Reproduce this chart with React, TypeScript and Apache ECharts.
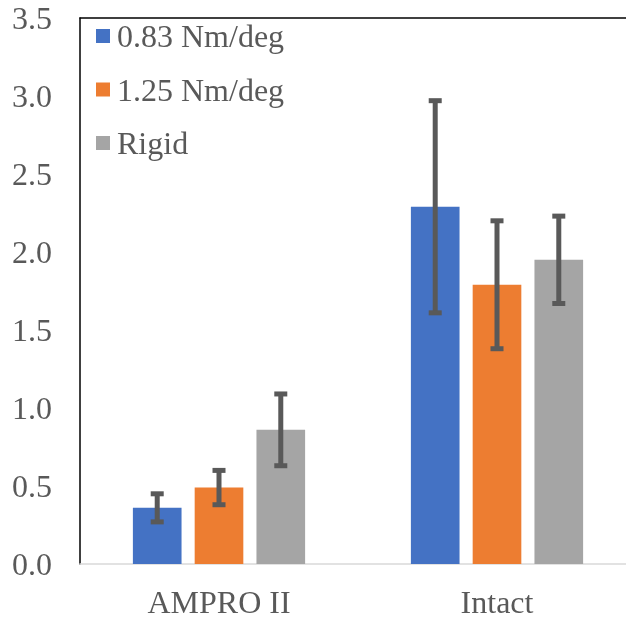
import React, { useEffect, useRef } from "react";
import * as echarts from "echarts";

const categories = ["AMPRO II", "Intact"];
const seriesNames = ["0.83 Nm/deg", "1.25 Nm/deg", "Rigid"];
const colors = ["#4472C4", "#ED7D31", "#A5A5A5"];
const means083 = [0.36, 2.29];
const means125 = [0.49, 1.79];
const meansRigid = [0.86, 1.95];
const err083 = [0.09, 0.68];
const err125 = [0.11, 0.41];
const errRigid = [0.23, 0.28];
const yTicks = [0, 0.5, 1.0, 1.5, 2.0, 2.5, 3.0, 3.5];

const BAR_FRAC = 0.175;
const GAP_FRAC = 0.27;

export default function App() {
  const ref = useRef<HTMLDivElement>(null);
  useEffect(() => {
    if (!ref.current) return;
    const chart = echarts.init(ref.current, null, { renderer: "svg" });
    const means = [means083, means125, meansRigid];
    const errs = [err083, err125, errRigid];
    const font = "Liberation Serif";
    const textColor = "#595959";

    const barSeries = seriesNames.map((name, i) => ({
      name,
      type: "bar",
      data: means[i],
      barWidth: BAR_FRAC * 100 + "%",
      barGap: GAP_FRAC * 100 + "%",
      itemStyle: { color: colors[i] },
      z: 2,
    }));

    const errSeries = seriesNames.map((name, i) => ({
      name: name + "-err",
      type: "custom",
      z: 5,
      data: means[i].map((m, c) => [c, m - errs[i][c], m + errs[i][c]]),
      renderItem: (params: any, api: any) => {
        const cat = api.value(0);
        const lo = api.coord([cat, api.value(1)]);
        const hi = api.coord([cat, api.value(2)]);
        const band = api.size([1, 0])[0];
        const bw = band * BAR_FRAC;
        const gap = bw * GAP_FRAC;
        const total = 3 * bw + 2 * gap;
        const x = lo[0] - total / 2 + i * (bw + gap) + bw / 2;
        const capW = 13;
        const style = { stroke: "#595959", lineWidth: 5 };
        return {
          type: "group",
          children: [
            { type: "line", shape: { x1: x, y1: hi[1], x2: x, y2: lo[1] }, style },
            { type: "line", shape: { x1: x - capW / 2, y1: hi[1], x2: x + capW / 2, y2: hi[1] }, style },
            { type: "line", shape: { x1: x - capW / 2, y1: lo[1], x2: x + capW / 2, y2: lo[1] }, style },
          ],
        };
      },
      tooltip: { show: false },
    }));

    chart.setOption({
      animation: false,
      grid: {
        left: 80,
        top: 18,
        height: 546,
        width: 556,
        containLabel: false,
        outerBoundsMode: "none",
      },
      legend: {
        data: seriesNames,
        orient: "vertical",
        left: 96,
        top: 19,
        padding: 0,
        icon: "rect",
        itemWidth: 14,
        itemHeight: 14,
        itemGap: 19.5,
        textStyle: {
          fontFamily: font,
          fontSize: 32,
          color: textColor,
          lineHeight: 34,
          padding: [0, 0, 0, 2],
        },
      },
      xAxis: [
        {
          type: "category",
          data: categories,
          axisLine: { show: true, lineStyle: { color: "#D9D9D9", width: 1.5 } },
          axisTick: { show: false },
          axisLabel: { fontFamily: font, fontSize: 32, color: textColor, margin: 22 },
        },
        {
          type: "category",
          data: categories,
          position: "top",
          axisLine: { show: true, lineStyle: { color: "#000000", width: 1.5 } },
          axisTick: { show: false },
          axisLabel: { show: false },
        },
      ],
      yAxis: {
        type: "value",
        min: yTicks[0],
        max: yTicks[yTicks.length - 1],
        interval: 0.5,
        axisLine: { show: true, lineStyle: { color: "#000000", width: 1.5 } },
        axisTick: { show: false },
        splitLine: { show: false },
        axisLabel: {
          fontFamily: font,
          fontSize: 32,
          color: textColor,
          margin: 28,
          formatter: (v: number) => v.toFixed(1),
        },
      },
      series: [...barSeries, ...errSeries],
    });
    return () => chart.dispose();
  }, []);
  return (
    <div
      ref={ref}
      style={{ width: 626, height: 620, position: "fixed", left: 0, top: 0 }}
    />
  );
}
